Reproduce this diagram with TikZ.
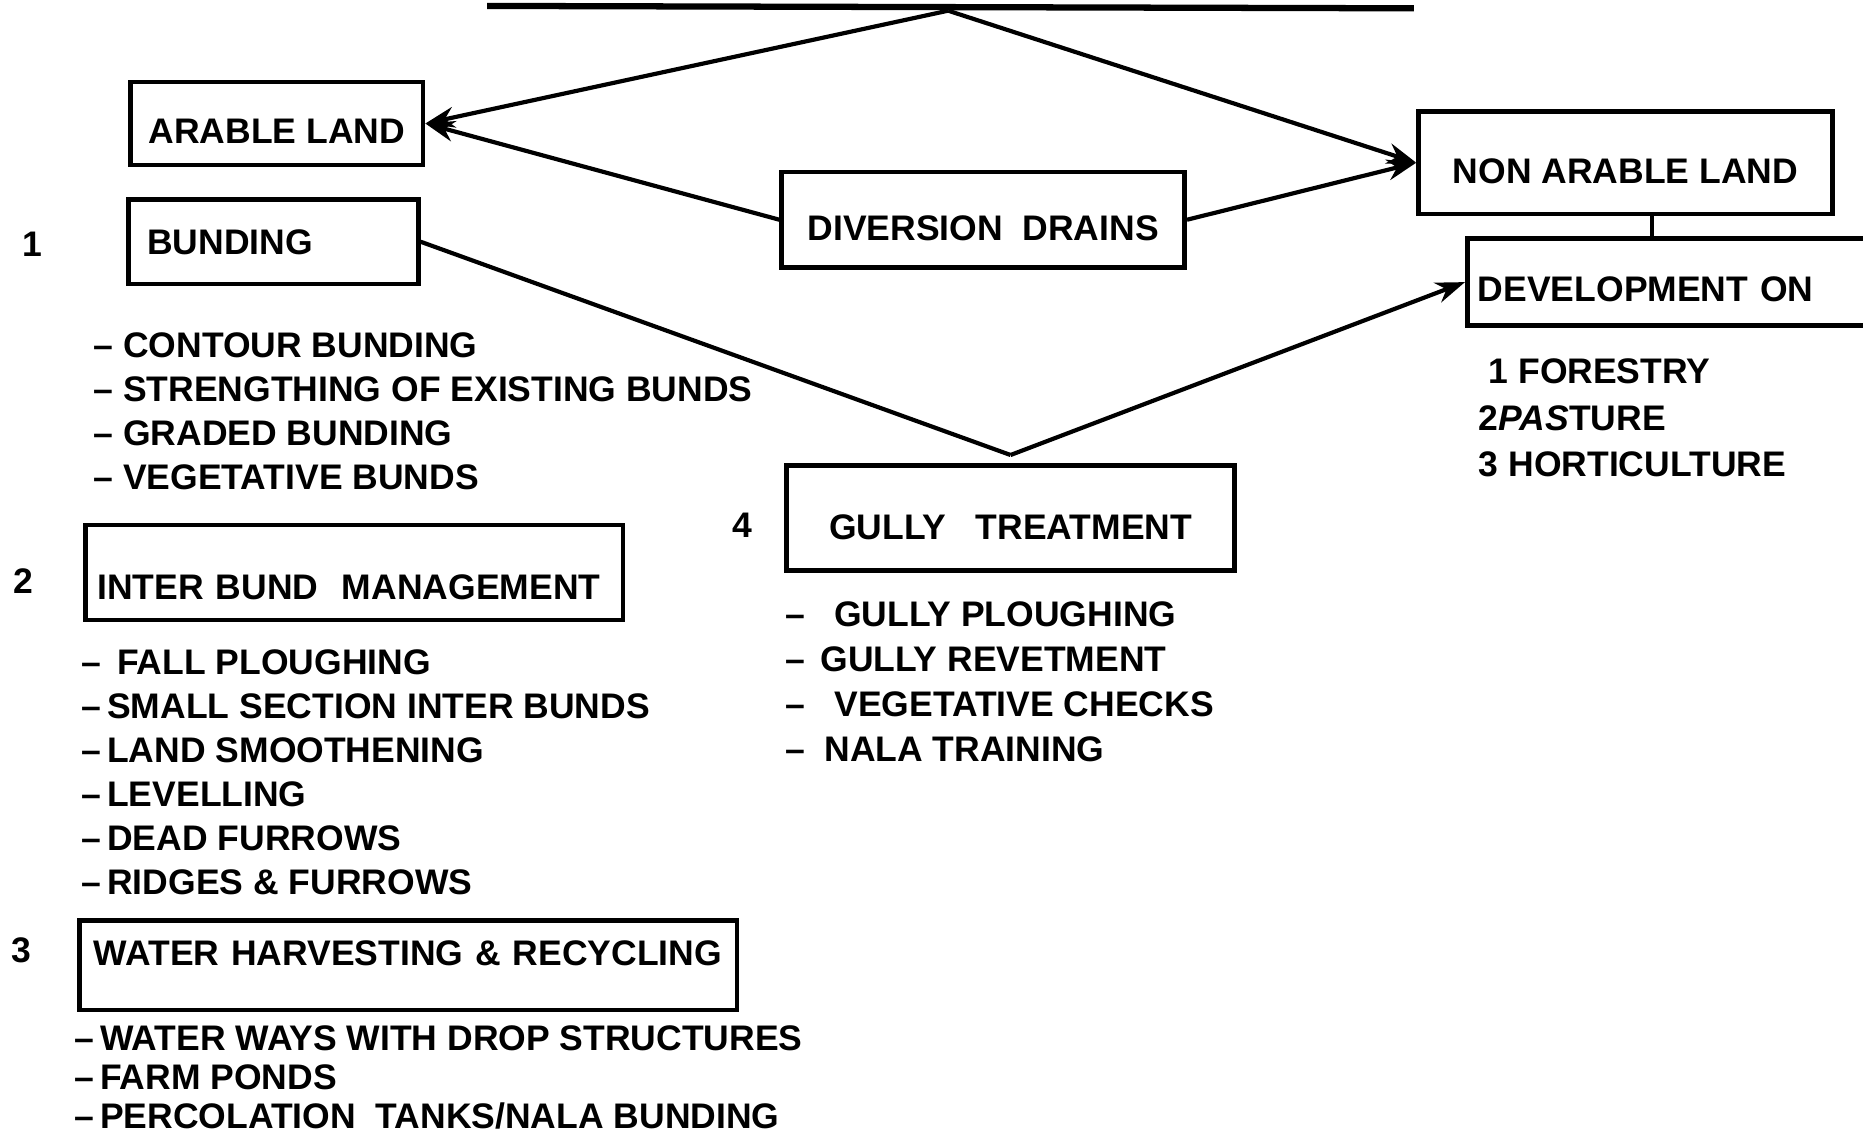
\documentclass[tikz,border=0pt]{standalone}
\usepackage{fontspec}
\setmainfont{Liberation Sans}
\usetikzlibrary{arrows.meta}
\newcommand{\lettering}{\fontsize{8.5}{10.4}\selectfont\bfseries}
\tikzset{
  landbox/.style={rectangle,draw,line width=1.1pt,inner sep=0pt,
                  anchor=north west,font=\lettering},
  itemlist/.style={anchor=north west,inner sep=0pt,align=left,
                   font=\fontsize{8.5}{#1}\selectfont\bfseries},
  number/.style={inner sep=0pt,font=\lettering},
  titlerule/.style={line width=1.5pt},
  flowline/.style={line width=1pt},
  flowarrow/.style={>={Stealth[length=7pt,width=5pt]},line width=1pt,->},
}
\begin{document}
\begin{tikzpicture}[x=0.01cm,y=-0.01cm]
    \useasboundingbox (0,0) rectangle (1568,952);
    \clip (0,0) rectangle (1568,952);

    % Title rule and fork
    \coordinate (ruleL) at (410,5);
    \coordinate (ruleR) at (1190,7);
    \coordinate (fork)  at (798,9);
    \draw[titlerule] (ruleL) -- (ruleR);

    % Boxes
    \node[landbox,minimum width=2.46cm,text height=0.515cm,text depth=0.185cm]
        (arable) at (108,67) {ARABLE LAND};
    \node[landbox,inner xsep=0.16cm,text width=2.12cm,align=left,
          text height=0.465cm,text depth=0.245cm]
        (bunding) at (106,166) {BUNDING};
    \node[landbox,inner xsep=0.1cm,text width=4.32cm,align=left,
          text height=0.625cm,text depth=0.175cm]
        (inter) at (70,440) {INTER BUND\ \ MANAGEMENT};
    \node[landbox,inner xsep=0.12cm,text width=5.29cm,align=left,
          text height=0.375cm,text depth=0.375cm]
        (water) at (65,773) {WATER HARVESTING \& RECYCLING};
    \node[landbox,minimum width=3.39cm,text height=0.575cm,text depth=0.225cm]
        (diversion) at (656,143) {DIVERSION\ \ DRAINS};
    \node[landbox,minimum width=3.48cm,text height=0.605cm,text depth=0.255cm]
        (nonarable) at (1192,92) {NON\ ARABLE\ LAND};
    \node[landbox,inner xsep=0.09cm,text width=3.82cm,align=left,
          text height=0.525cm,text depth=0.205cm]
        (devel) at (1233,199) {DEVELOPMENT ON};
    \node[landbox,minimum width=3.77cm,text height=0.625cm,text depth=0.255cm]
        (gully) at (660,390) {GULLY\ \ \ TREATMENT};

    % Numbers
    \node[number] (num1) at (27,206) {1};
    \node[number] (num2) at (20,489) {2};
    \node[number] (num3) at (18,800) {3};
    \node[number] (num4) at (625,442) {4};

    % Measures under each box
    \node[itemlist=10.5pt] (bundlist) at (78,279.5)
        {\textendash\ CONTOUR BUNDING\\
         \textendash\ STRENGTHING OF EXISTING BUNDS\\
         \textendash\ GRADED BUNDING\\
         \textendash\ VEGETATIVE BUNDS};
    \node[itemlist=10.5pt] (interlist) at (68,546.5)
        {\textendash\ \,FALL PLOUGHING\\
         \textendash\,SMALL SECTION INTER BUNDS\\
         \textendash\,LAND SMOOTHENING\\
         \textendash\,LEVELLING\\
         \textendash\,DEAD FURROWS\\
         \textendash\,RIDGES \& FURROWS};
    \node[itemlist=9.3pt] (waterlist) at (62,862.5)
        {\textendash\,WATER WAYS WITH DROP STRUCTURES\\
         \textendash\,FARM PONDS\\
         \textendash\,PERCOLATION\ \ TANKS/NALA BUNDING};
    \node[itemlist=10.8pt] (gullylist) at (660,505.5)
        {\textendash\ \ \ GULLY PLOUGHING\\
         \textendash\ \,GULLY REVETMENT\\
         \textendash\ \ \ VEGETATIVE CHECKS\\
         \textendash\ \ NALA TRAINING};
    \node[itemlist=11.1pt] (devellist) at (1244,301.5)
        {\ 1 FORESTRY\\
         2{\itshape PAS}TURE\\
         3 HORTICULTURE};

    % Connectors
    \draw[flowarrow] (fork) -- (arable.east);
    \draw[flowarrow] (fork) -- (nonarable.west);
    \draw[flowarrow] (diversion.west) -- (arable.east);
    \draw[flowarrow] (diversion.east) -- (nonarable.west);
    \coordinate (meet) at ([yshift=2pt]gully.north);
    \draw[flowline] (bunding.east) -- (meet);
    \draw[flowarrow] (meet) -- (devel.west);
    \draw[flowline] ([xshift=6.3pt]nonarable.south)
        -- ([xshift=6.3pt]nonarable.south |- devel.north);
\end{tikzpicture}
\end{document}
